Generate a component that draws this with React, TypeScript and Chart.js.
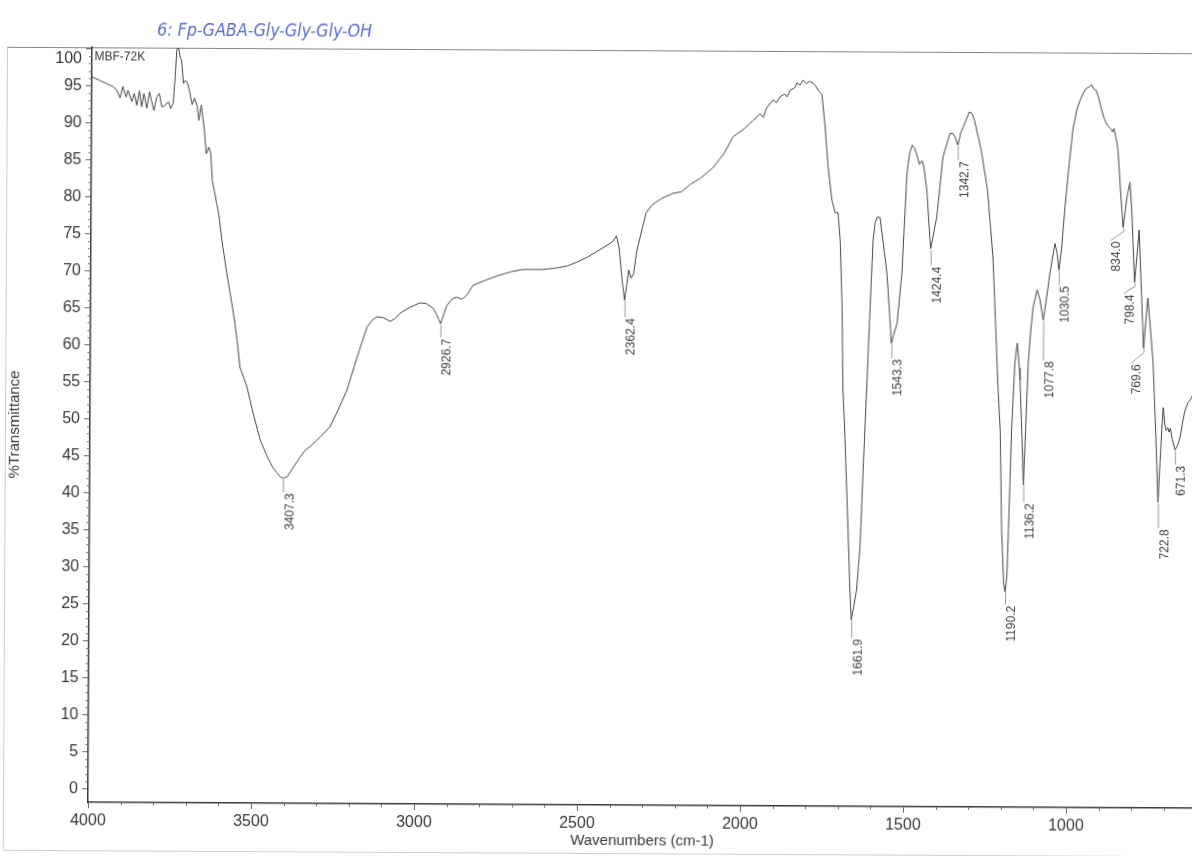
import React, { useEffect, useRef } from "react";
import { Chart, registerables } from "chart.js";

Chart.register(...registerables);

// Sample annotations
const sampleTitle = "6: Fp-GABA-Gly-Gly-Gly-OH";
const sampleId = "MBF-72K";
const xAxisTitle = "Wavenumbers (cm-1)";
const yAxisTitle = "%Transmittance";

// IR spectrum: wavenumber (cm-1) and %T
const wavenumbers = [
  4000, 3990, 3975, 3955, 3935, 3923, 3913, 3905, 3895, 3889, 3877, 3870, 3862, 3854, 3847, 3840,
  3831, 3823, 3816, 3809, 3801, 3793, 3785, 3775, 3765, 3758, 3750, 3744, 3740, 3735, 3730, 3725,
  3719, 3713, 3707, 3701, 3692, 3685, 3676, 3671, 3664, 3654, 3648, 3640, 3634, 3629, 3615, 3608,
  3599, 3583, 3562, 3550, 3541, 3519, 3500, 3478, 3456, 3438, 3416, 3407.3, 3395, 3377, 3355, 3340,
  3325, 3294, 3264, 3243, 3212, 3182, 3152, 3135, 3121, 3103, 3081, 3065, 3051, 3021, 2990, 2970,
  2950, 2938, 2926.7, 2915, 2907, 2890, 2876, 2862, 2846, 2828, 2790, 2754, 2710, 2674, 2640, 2613,
  2575, 2540, 2510, 2478, 2440, 2400, 2388, 2380, 2370, 2362.4, 2356, 2350, 2343, 2335, 2326, 2310,
  2298, 2280, 2250, 2215, 2190, 2160, 2130, 2093, 2060, 2032, 2000, 1971, 1950, 1940, 1930, 1910,
  1900, 1889, 1875, 1867, 1858, 1845, 1837, 1828, 1818, 1808, 1800, 1788, 1780, 1772, 1760, 1750,
  1740, 1728, 1718, 1709, 1702, 1695, 1691, 1685, 1673, 1666, 1661.9, 1655, 1646, 1636, 1627, 1617,
  1609, 1601, 1595, 1589, 1580, 1571, 1558, 1548, 1543.3, 1538, 1526, 1512, 1498, 1490, 1483, 1476,
  1468, 1460, 1452, 1447, 1437, 1430, 1424.4, 1418, 1406, 1388, 1375, 1367, 1358, 1350, 1342.7, 1333,
  1327, 1308, 1300, 1292, 1271, 1251, 1233, 1215, 1208, 1202, 1195, 1190.2, 1185, 1181, 1173, 1164,
  1157, 1150, 1148, 1140, 1136.2, 1130, 1123, 1116, 1109, 1097, 1088, 1077.8, 1068, 1058, 1043, 1036,
  1030.5, 1022, 1013, 1000, 989, 978, 968, 958, 949, 940, 934, 927, 919, 912, 904, 895,
  885, 875, 868, 864, 858, 851, 842, 834.0, 828, 823, 814, 808, 804, 798.4, 792, 785,
  779, 769.6, 763, 757, 748, 740, 730, 722.8, 716, 711, 708, 703, 699, 694, 690, 686,
  680, 671.3, 664, 656, 648, 641, 632, 626, 618, 610, 600,
];

const transmittance = [
  96.2, 96.0, 95.7, 95.3, 94.9, 94.4, 93.4, 94.9, 93.5, 94.4, 92.9, 94.0, 92.4, 94.4, 92.2, 94.0,
  92.0, 94.2, 92.9, 91.7, 93.5, 94.0, 92.2, 92.4, 92.9, 92.0, 92.7, 96.5, 99.9, 100.4, 99.0, 98.5,
  95.4, 95.8, 95.5, 94.5, 92.5, 93.4, 92.2, 90.4, 92.5, 89.1, 85.9, 86.8, 85.9, 82.3, 79.2, 77.6,
  74.3, 69.8, 64.4, 60.7, 57.1, 54.4, 50.9, 47.3, 45.0, 43.5, 42.3, 42.1, 42.3, 43.5, 45.0, 45.9,
  46.4, 47.7, 49.1, 51.0, 54.1, 58.5, 62.6, 63.6, 64.0, 63.9, 63.4, 63.8, 64.5, 65.3, 65.9, 65.8,
  65.2, 64.3, 63.1, 64.6, 65.6, 66.5, 66.7, 66.4, 67.0, 68.3, 69.0, 69.6, 70.2, 70.5, 70.5, 70.5,
  70.7, 71.0, 71.5, 72.2, 73.2, 74.3, 75.1, 73.5, 69.0, 66.4, 68.5, 70.5, 69.4, 70.0, 73.0, 76.0,
  78.2, 79.3, 80.2, 80.9, 81.1, 82.2, 83.0, 84.4, 86.3, 88.6, 89.6, 90.8, 91.7, 91.2, 92.5, 93.6,
  93.2, 94.0, 94.4, 94.0, 94.9, 95.2, 95.9, 95.6, 96.3, 95.8, 96.1, 95.9, 95.5, 94.9, 94.3, 89.9,
  84.5, 80.1, 78.4, 78.4, 74.7, 65.7, 54.6, 49.0, 35.5, 27.0, 23.4, 25.0, 27.4, 33.3, 44.6, 56.0,
  65.7, 74.7, 77.0, 77.8, 77.8, 74.7, 70.3, 64.0, 60.8, 61.7, 63.5, 70.3, 83.8, 86.5, 87.6, 87.2,
  86.3, 85.0, 85.5, 84.8, 81.6, 77.0, 73.6, 75.0, 77.9, 86.0, 88.0, 89.2, 89.2, 88.6, 87.6, 89.4,
  90.0, 92.1, 91.9, 91.0, 87.0, 81.6, 72.5, 54.6, 49.2, 35.7, 28.5, 27.3, 29.5, 35.7, 49.2, 58.2,
  60.9, 57.5, 55.9, 46.9, 41.7, 49.2, 58.2, 62.5, 65.8, 68.1, 66.8, 64.0, 67.0, 70.4, 74.4, 73.0,
  70.8, 74.0, 79.3, 85.5, 90.1, 92.5, 93.8, 94.8, 95.4, 95.6, 95.9, 95.3, 95.1, 94.2, 92.8, 91.4,
  90.4, 90.0, 89.5, 90.0, 88.8, 87.0, 81.0, 76.6, 78.8, 80.7, 82.7, 79.0, 74.9, 69.2, 72.5, 76.3,
  70.0, 60.3, 64.0, 67.1, 62.5, 58.3, 48.0, 39.5, 46.0, 50.5, 52.3, 50.0, 49.2, 49.6, 49.0, 49.5,
  48.0, 46.6, 47.2, 48.3, 50.5, 52.0, 53.0, 53.3, 54.0, 55.0, 55.5,
];

// Labelled band positions (cm-1)
const peakWavenumbers = [
  3407.3, 2926.7, 2362.4, 1661.9, 1543.3, 1424.4, 1342.7, 1190.2, 1136.2, 1077.8, 1030.5, 834.0,
  798.4, 769.6, 722.8, 671.3,
];

// Axis ticks
const xTicks = [4000, 3500, 3000, 2500, 2000, 1500, 1000];
const yTicks = [0, 5, 10, 15, 20, 25, 30, 35, 40, 45, 50, 55, 60, 65, 70, 75, 80, 85, 90, 95, 100];

// Leader-line geometry for each band label (same order as peakWavenumbers)
const labelPlacement = [
  { drop: 14, shift: 0 },
  { drop: 14, shift: 0 },
  { drop: 17, shift: 0 },
  { drop: 18, shift: 0 },
  { drop: 15, shift: 0 },
  { drop: 17, shift: 0 },
  { drop: 15, shift: 0 },
  { drop: 13, shift: 0 },
  { drop: 17, shift: 0 },
  { drop: 40, shift: 0 },
  { drop: 15, shift: 0 },
  { drop: 13, shift: -13 },
  { drop: 11, shift: -11 },
  { drop: 15, shift: -13 },
  { drop: 26, shift: 0 },
  { drop: 15, shift: 0 },
];

const FONT = '"Liberation Sans", Arial, Helvetica, sans-serif';
const TEXT = "#383838";
const AXIS = "#3a3a3a";

const overlayPlugin = {
  id: "spectrumOverlay",
  beforeDraw(chart: any) {
    const { ctx, chartArea: a, width, height } = chart;
    ctx.save();
    ctx.lineWidth = 1;
    // printout frame
    ctx.strokeStyle = "#cfcfcf";
    ctx.beginPath();
    ctx.moveTo(5.5, a.top);
    ctx.lineTo(5.5, height - 2.5);
    ctx.lineTo(width, height - 2.5);
    ctx.stroke();
    ctx.strokeStyle = "#858585";
    ctx.beginPath();
    ctx.moveTo(5.5, Math.round(a.top) + 0.5);
    ctx.lineTo(width, Math.round(a.top) + 0.5);
    ctx.stroke();
    ctx.restore();
  },
  afterDraw(chart: any) {
    const { ctx, chartArea: a, scales } = chart;
    const x = scales.x;
    const y = scales.y;
    ctx.save();

    // minor ticks
    ctx.strokeStyle = "#707070";
    ctx.lineWidth = 1;
    ctx.beginPath();
    for (let v = 0; v <= 100; v++) {
      if (v % 5 === 0) continue;
      const py = Math.round(y.getPixelForValue(v)) + 0.5;
      ctx.moveTo(a.left - 3, py);
      ctx.lineTo(a.left, py);
    }
    for (let w = 700; w < 4000; w += 100) {
      if (w % 500 === 0) continue;
      const px = Math.round(x.getPixelForValue(w)) + 0.5;
      ctx.moveTo(px, a.bottom);
      ctx.lineTo(px, a.bottom + 3);
    }
    ctx.stroke();

    // top tick label sits inside the frame
    ctx.font = `16px ${FONT}`;
    ctx.fillStyle = TEXT;
    ctx.textAlign = "right";
    ctx.textBaseline = "middle";
    ctx.fillText("100", a.left - 10, y.getPixelForValue(100) + 10);

    // sample id
    ctx.font = `12px ${FONT}`;
    ctx.textAlign = "left";
    ctx.fillText(sampleId, a.left + 2.5, y.getPixelForValue(100) + 8.5);

    // band labels with leader lines
    ctx.font = `12px ${FONT}`;
    peakWavenumbers.forEach((wn, i) => {
      const idx = wavenumbers.indexOf(wn);
      if (idx < 0) return;
      const px = x.getPixelForValue(wn);
      const py = y.getPixelForValue(transmittance[idx]);
      const { drop, shift } = labelPlacement[i];
      const ex = px + shift;
      const ey = py + drop;
      ctx.strokeStyle = "#9a9a9a";
      ctx.beginPath();
      ctx.moveTo(px + 0.5, py + 1);
      if (shift !== 0) ctx.lineTo(px + 0.5, py + 4);
      ctx.lineTo(ex + 0.5, ey);
      ctx.stroke();
      ctx.save();
      ctx.translate(ex + 1, ey + 1);
      ctx.rotate(-Math.PI / 2);
      ctx.fillStyle = "#404040";
      ctx.textAlign = "right";
      ctx.textBaseline = "top";
      ctx.fillText(wn.toFixed(1), 0, 0);
      ctx.restore();
    });

    // handwritten sample name
    ctx.save();
    ctx.font = `italic 18px "DejaVu Sans", sans-serif`;
    const w = ctx.measureText(sampleTitle).width;
    ctx.translate(155, 38);
    ctx.scale(215 / w, 1);
    ctx.fillStyle = "#5b6dca";
    ctx.textAlign = "left";
    ctx.textBaseline = "alphabetic";
    ctx.fillText(sampleTitle, 0, 0);
    ctx.restore();

    ctx.restore();
  },
};

export default function App() {
  const canvasRef = useRef<HTMLCanvasElement | null>(null);

  useEffect(() => {
    const canvas = canvasRef.current;
    if (!canvas) return;
    const points = wavenumbers.map((w, i) => ({ x: w, y: transmittance[i] }));
    const chart = new Chart(canvas, {
      type: "scatter",
      data: {
        datasets: [
          {
            data: points,
            showLine: true,
            borderColor: "#474747",
            borderWidth: 1,
            pointRadius: 0,
            pointHoverRadius: 0,
            fill: false,
            tension: 0,
          },
        ],
      },
      options: {
        responsive: false,
        animation: false,
        devicePixelRatio: 1,
        events: [],
        layout: { padding: { left: 0, right: 1.6, top: 50, bottom: 0 } },
        plugins: {
          legend: { display: false },
          tooltip: { enabled: false },
        },
        scales: {
          x: {
            type: "linear",
            reverse: true,
            min: 600,
            max: 4000,
            afterBuildTicks: (s: any) => {
              s.ticks = xTicks.map((v) => ({ value: v }));
            },
            afterFit: (s: any) => {
              s.height = 51;
            },
            ticks: {
              font: { family: FONT, size: 16 },
              color: TEXT,
              padding: 3,
              maxRotation: 0,
              autoSkip: false,
              callback: (v: any) => String(v),
            },
            grid: { drawOnChartArea: false, drawTicks: true, tickLength: 6, color: "#666" },
            border: { display: true, color: AXIS, width: 1.5 },
            title: {
              display: true,
              text: xAxisTitle,
              font: { family: FONT, size: 15 },
              color: TEXT,
              padding: { top: 0, bottom: 6 },
            },
          },
          y: {
            type: "linear",
            min: -1.8,
            max: 100.2,
            afterBuildTicks: (s: any) => {
              s.ticks = yTicks.map((v) => ({ value: v }));
            },
            afterFit: (s: any) => {
              s.width = 90;
            },
            ticks: {
              font: { family: FONT, size: 16 },
              color: TEXT,
              padding: 4,
              autoSkip: false,
              callback: (v: any) => (v === 100 ? "" : String(v)),
            },
            grid: { drawOnChartArea: false, drawTicks: true, tickLength: 6, color: "#666" },
            border: { display: true, color: AXIS, width: 1.5 },
            title: {
              display: true,
              text: yAxisTitle,
              font: { family: FONT, size: 15 },
              color: TEXT,
              padding: { top: 6, bottom: 0 },
            },
          },
        },
      },
      plugins: [overlayPlugin],
    });
    return () => chart.destroy();
  }, []);

  return (
    <div
      style={{
        position: "fixed",
        left: 0,
        top: 0,
        width: 1192,
        height: 856,
        overflow: "hidden",
        background: "#ffffff",
      }}
    >
      <canvas
        ref={canvasRef}
        width={1200}
        height={856}
        style={{
          position: "absolute",
          left: 0,
          top: 0,
          width: 1200,
          height: 856,
          transform: "rotate(0.31deg)",
          transformOrigin: "596px 428px",
        }}
      />
    </div>
  );
}
